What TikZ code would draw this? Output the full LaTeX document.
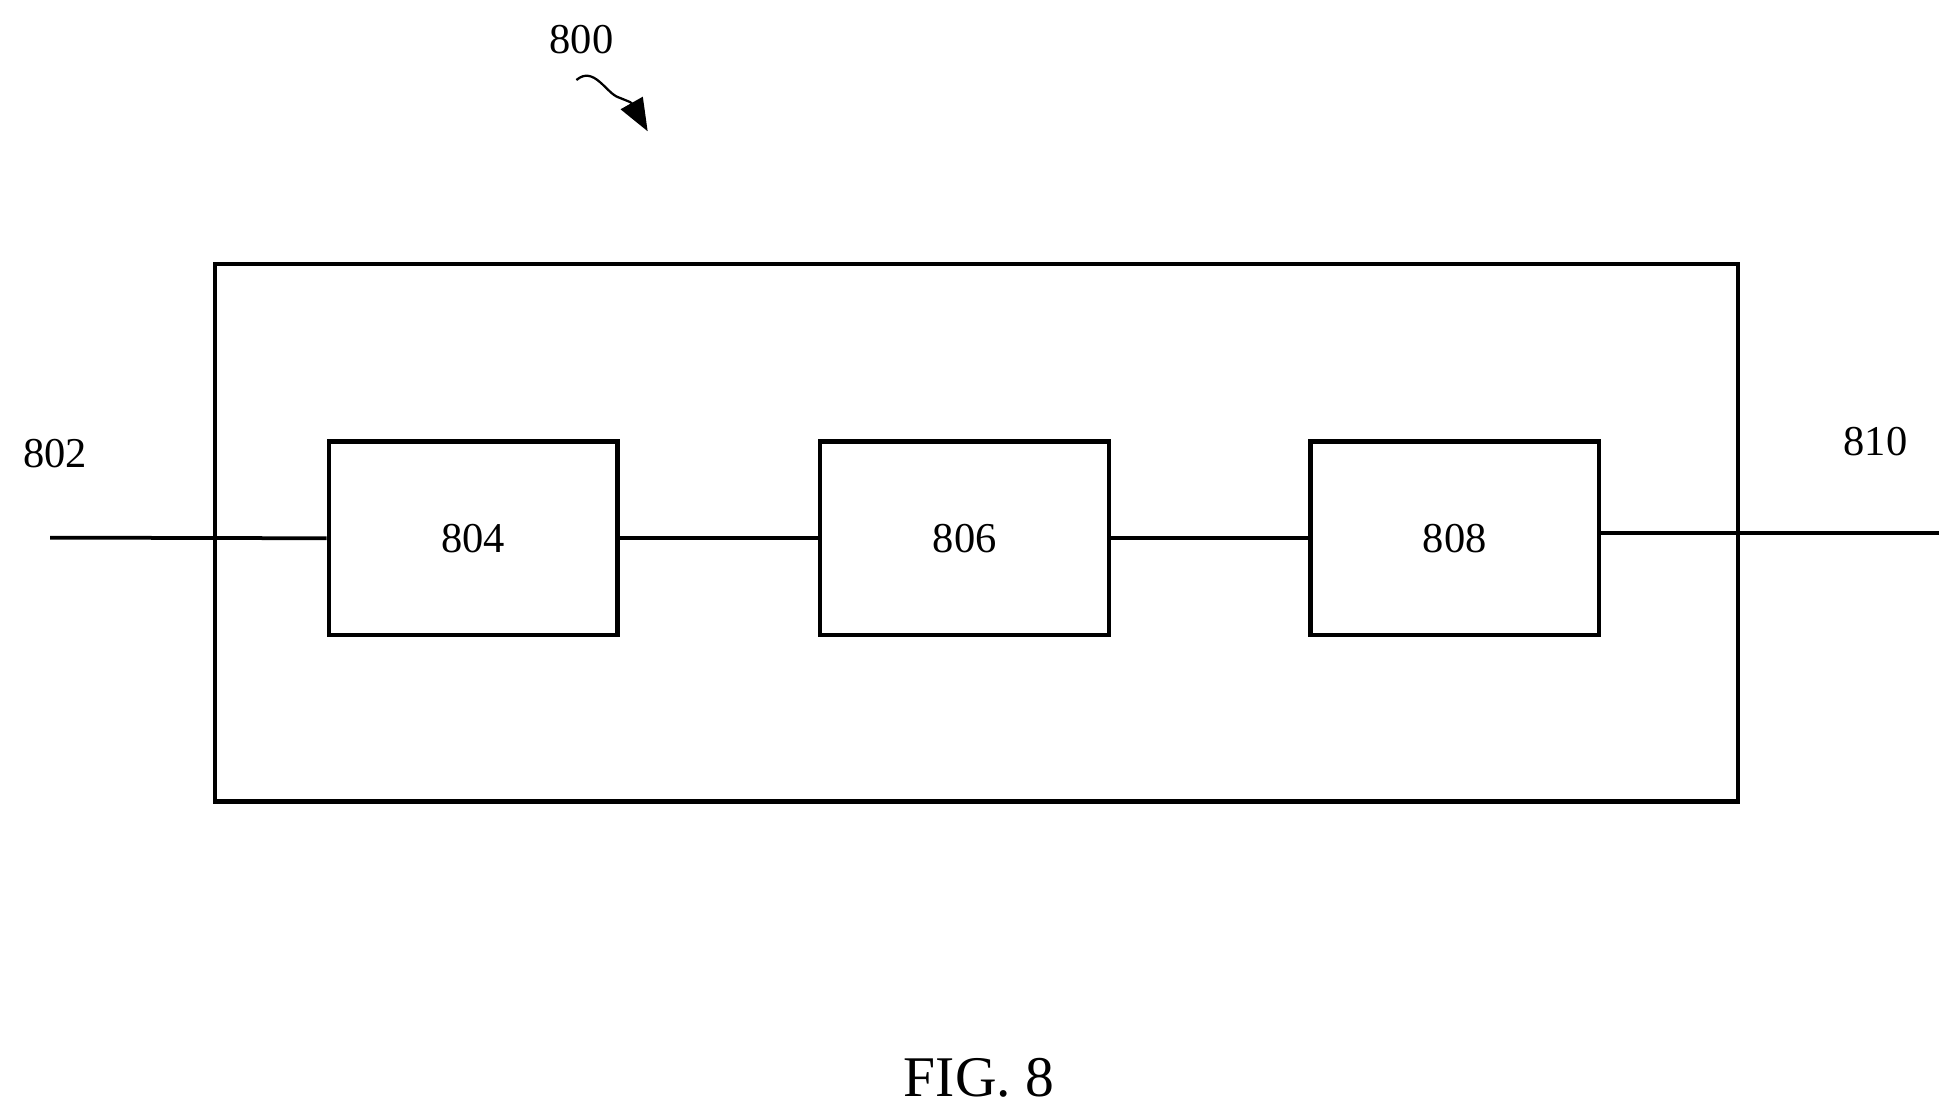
\documentclass[tikz,border=0pt]{standalone}
\usepackage{fontspec}
\setmainfont{Liberation Serif}
\usetikzlibrary{arrows.meta}
\begin{document}
\begin{tikzpicture}[x=1pt,y=-1pt,
  blk/.style={draw,line width=3.5pt,minimum width=231pt,minimum height=155pt,inner sep=0pt,font=\fontsize{34}{40}\selectfont},
  wire/.style={line width=3pt},
  lbl/.style={font=\fontsize{34}{40}\selectfont}]
\useasboundingbox (0,0) rectangle (1562,894);
\node[draw,line width=3.5pt,minimum width=1218pt,minimum height=430pt,inner sep=0pt] (outer) at (781,426) {};
\node[blk] (b804) at (378.5,430.5) {804};
\node[blk] (b806) at (771.5,430.5) {806};
\node[blk] (b808) at (1163.5,430.5) {808};
\coordinate (in) at (40,430);
\coordinate (out) at (1551,426);
\draw[wire] (in) -- (b804.west);
\draw[wire] (b804.east) -- (b806.west);
\draw[wire] (b806.east) -- (b808.west);
\draw[wire] (b808.east |- out) -- (out);
\node[lbl] (l802) at (44,363) {802};
\node[lbl] (l810) at (1500,353) {810};
\node[lbl] (l800) at (465,32) {800};
\coordinate (a0) at (461,64);
\coordinate (a1) at (518,105);
\draw[line width=1.8pt,-{Triangle[length=26pt,width=20pt]}] (a0) .. controls (475,52) and (485,75) .. (495,78) .. controls (505,82) .. (a1);
\node[font=\fontsize{46}{54}\selectfont] (fig) at (783,862) {FIG. 8};
\end{tikzpicture}
\end{document}
